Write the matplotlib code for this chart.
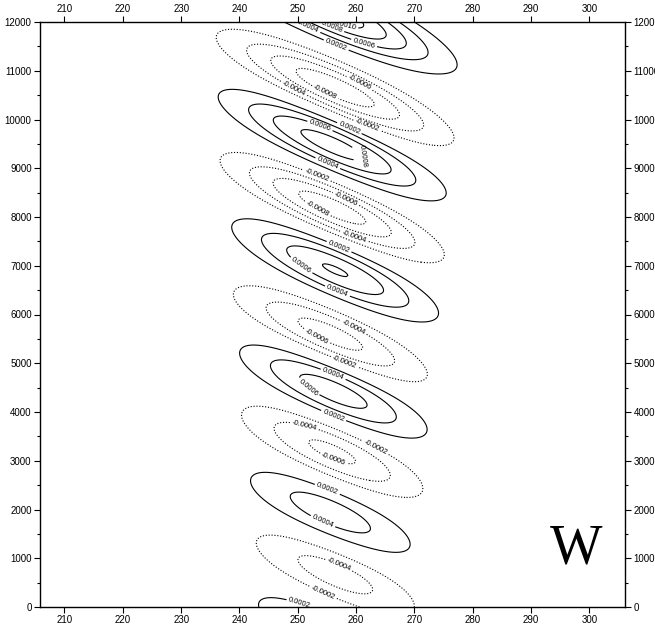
import numpy as np
import matplotlib
matplotlib.use("Agg")
import matplotlib.pyplot as plt

# W cells: centre (lon, height), peak value and size
# (half-length along the tilted axis and half-width across it, both in lon units)
cell_lon = [255.0, 256.4, 255.9, 255.9, 256.4, 255.6, 256.1, 255.9, 255.6, 256.4, 254.0]
cell_hgt = [12250, 10650, 9480, 8190, 6910, 5580, 4430, 3180, 1930, 680, -450]
cell_amp = [0.00115, -0.00095, 0.0009, -0.00092, 0.00082, -0.0007, 0.00072, -0.00066, 0.00052, -0.0005, 0.0004]
cell_len = [13.0, 12.6, 12.3, 12.0, 11.5, 11.5, 11.0, 11.0, 10.9, 11.0, 10.0]
cell_wid = [2.8, 2.7, 2.7, 2.7, 2.8, 2.9, 3.0, 3.1, 3.3, 3.3, 3.0]

pos_levels = [0.0002, 0.0004, 0.0006, 0.0008, 0.0010, 0.0012]
neg_levels = [-0.0012, -0.0010, -0.0008, -0.0006, -0.0004, -0.0002]

xticks = list(range(210, 301, 10))
yticks = list(range(0, 12001, 1000))

tilt = np.deg2rad(24)
m_per_deg = 120.0  # height units per lon unit on the page

lon = np.linspace(205.8, 306.1, 400)
hgt = np.linspace(0, 12000, 481)
X, Z = np.meshgrid(lon, hgt)
W = np.zeros_like(X)
for cx, cz, a, la, lc in zip(cell_lon, cell_hgt, cell_amp, cell_len, cell_wid):
    dx = X - cx
    dz = (Z - cz) / m_per_deg
    along = dx * np.cos(tilt) - dz * np.sin(tilt)
    across = dx * np.sin(tilt) + dz * np.cos(tilt)
    W += a * np.exp(-0.5 * (along / la) ** 2 - 0.5 * (across / lc) ** 2)

plt.rcParams['font.family'] = ['Liberation Sans', 'DejaVu Sans']

fig = plt.figure(figsize=(6.55, 6.24), dpi=100)
ax = fig.add_axes([40 / 655, 17 / 624, 585 / 655, 585 / 624])

cp = ax.contour(X, Z, W, levels=pos_levels, colors='k', linewidths=0.8)
cn = ax.contour(X, Z, W, levels=neg_levels, colors='k', linewidths=0.8,
                linestyles=[(0, (1, 1.6))])
ax.clabel(cp, fmt='%.4f', fontsize=5.5, inline=True, inline_spacing=2)
ax.clabel(cn, fmt='%.4f', fontsize=5.5, inline=True, inline_spacing=2)

ax.set_xlim(205.8, 306.1)
ax.set_ylim(0, 12000)
ax.set_xticks(xticks)
ax.set_yticks(yticks)
ax.set_yticks(list(range(500, 12000, 1000)), minor=True)
ax.tick_params(which='both', direction='out', top=True, right=True,
               labeltop=True, labelright=True, labelsize=7, width=0.8)
ax.tick_params(which='major', length=4, pad=2)
ax.tick_params(which='minor', length=2)
for s in ax.spines.values():
    s.set_linewidth(1.0)

ax.text(0.916, 0.098, 'W', transform=ax.transAxes, ha='center', va='center',
        fontsize=40, family='Liberation Serif')

fig.savefig('out.png', dpi=100)
